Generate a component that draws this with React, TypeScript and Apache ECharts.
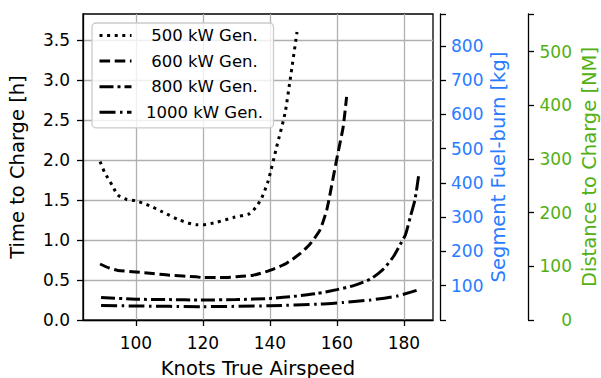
import React, { useEffect, useRef } from "react";
import * as echarts from "echarts";

// ---- data ----
const seriesNames = ["500 kW Gen.", "600 kW Gen.", "800 kW Gen.", "1000 kW Gen."];

const speed500 = [89.3, 90.6, 93.1, 94.6, 97.1, 100, 104, 108, 113, 118, 120, 124, 129, 134, 136, 137.5, 139.5, 142, 144.5, 146, 148.1];
const time500 = [1.98, 1.85, 1.67, 1.56, 1.51, 1.49, 1.43, 1.35, 1.25, 1.19, 1.19, 1.22, 1.28, 1.33, 1.42, 1.52, 1.74, 2.16, 2.58, 2.99, 3.6];

const speed600 = [89.3, 92, 94.6, 100, 105, 110, 118, 120, 125, 130, 135, 140, 145, 149, 152, 155, 157, 158.4, 160, 161.9, 162.9];
const time600 = [0.7, 0.65, 0.62, 0.6, 0.58, 0.56, 0.54, 0.53, 0.53, 0.54, 0.56, 0.62, 0.71, 0.83, 0.95, 1.13, 1.38, 1.67, 2.02, 2.42, 2.79];

const speed800 = [89.6, 100, 110, 119, 130, 140, 148, 154, 160, 165, 170, 174, 177, 179, 180.5, 182, 183.3, 184.5];
const time800 = [0.28, 0.26, 0.255, 0.25, 0.255, 0.27, 0.3, 0.33, 0.38, 0.43, 0.51, 0.64, 0.8, 0.95, 1.07, 1.3, 1.5, 1.83];

const speed1000 = [89.6, 100, 120, 140, 155, 162, 170, 178, 183.8];
const time1000 = [0.18, 0.175, 0.167, 0.178, 0.2, 0.22, 0.25, 0.3, 0.37];

const xTicks = [100, 120, 140, 160, 180];
const yTicks = [0, 0.5, 1.0, 1.5, 2.0, 2.5, 3.0, 3.5];

const xRange = [84.2, 188.7];
const timeRange = [0, 3.825];
const fuelRange = [0, 893];
const distRange = [0, 570];

const FONT = "DejaVu Sans";
const BLUE = "#2a7cff";
const GREEN = "#52b012";

function pairs(xs: number[], ys: number[]) {
  return xs.map((x, i) => [x, ys[i]]);
}

export default function App() {
  const ref = useRef<HTMLDivElement>(null);

  useEffect(() => {
    if (!ref.current) return;
    const chart = echarts.init(ref.current, null, { renderer: "svg" });

    const dashes: number[][] = [
      [3, 4.6],
      [10.6, 4.6],
      [14, 4, 3, 4],
      [16, 4.5, 2.5, 4.5],
    ];
    const datasets = [
      pairs(speed500, time500),
      pairs(speed600, time600),
      pairs(speed800, time800),
      pairs(speed1000, time1000),
    ];

    const axisLine = { show: true, lineStyle: { color: "#000", width: 1.3 } };
    const axisTick = { show: true, length: 6, lineStyle: { color: "#000", width: 1.3 } };

    chart.setOption({
      animation: false,
      textStyle: { fontFamily: FONT },
      grid: {
        left: 83,
        top: 14,
        right: 168,
        bottom: 58,
        containLabel: false,
        outerBoundsMode: "none",
        show: true,
        borderColor: "#000",
        borderWidth: 1.3,
        backgroundColor: "transparent",
      },
      legend: {
        orient: "vertical",
        left: 92,
        top: 23,
        padding: [4, 1, 7, 6],
        itemWidth: 32,
        itemHeight: 18,
        itemGap: 8.6,
        backgroundColor: "rgba(255,255,255,0.8)",
        borderColor: "#cccccc",
        borderWidth: 1.3,
        borderRadius: 4,
        itemStyle: { opacity: 0 },
        lineStyle: { width: 3 },
        data: seriesNames,
        formatter: "{a|{name}}",
        textStyle: {
          fontFamily: FONT,
          fontSize: 16.5,
          color: "#000",
          rich: {
            a: { width: 136, align: "center", fontFamily: FONT, fontSize: 16.5, color: "#000", lineHeight: 18 },
          },
        },
      },
      xAxis: {
        type: "value",
        min: xRange[0],
        max: xRange[1],
        name: "Knots True Airspeed",
        nameLocation: "middle",
        nameGap: 38,
        nameMoveOverlap: false,
        nameTextStyle: { fontFamily: FONT, fontSize: 19.5, color: "#000" },
        axisLine,
        axisTick: { ...axisTick, customValues: xTicks },
        axisLabel: { customValues: xTicks, fontFamily: FONT, fontSize: 17, color: "#000", margin: 14 },
        splitLine: { show: true, lineStyle: { color: "#b0b0b0", width: 1.3 } },
      },
      yAxis: [
        {
          type: "value",
          min: timeRange[0],
          max: timeRange[1],
          position: "left",
          name: "Time to Charge [h]",
          nameLocation: "middle",
          nameGap: 56,
          nameMoveOverlap: false,
          nameTextStyle: { fontFamily: FONT, fontSize: 19.5, color: "#000" },
          axisLine,
          axisTick: { ...axisTick, customValues: yTicks },
          axisLabel: {
            customValues: yTicks,
            fontFamily: FONT,
            fontSize: 17,
            color: "#000",
            margin: 13,
            formatter: (v: number) => v.toFixed(1),
          },
          splitLine: { show: true, lineStyle: { color: "#b0b0b0", width: 1.3 } },
        },
        {
          type: "value",
          min: fuelRange[0],
          max: fuelRange[1],
          interval: 100,
          position: "right",
          offset: 7,
          name: "Segment Fuel-burn [kg]",
          nameLocation: "middle",
          nameGap: 48,
          nameMoveOverlap: false,
          nameTextStyle: { fontFamily: FONT, fontSize: 19.5, color: BLUE },
          axisLine,
          axisTick,
          axisLabel: {
            fontFamily: FONT,
            fontSize: 17,
            color: BLUE,
            margin: 11,
            formatter: (v: number) => (v > 0 && v % 100 === 0 ? String(v) : ""),
          },
          splitLine: { show: false },
        },
        {
          type: "value",
          min: distRange[0],
          max: distRange[1],
          interval: 100,
          position: "right",
          offset: 95,
          name: "Distance to Charge [NM]",
          nameLocation: "middle",
          nameGap: 51,
          nameMoveOverlap: false,
          nameTextStyle: { fontFamily: FONT, fontSize: 19.5, color: GREEN },
          axisLine,
          axisTick,
          axisLabel: {
            fontFamily: FONT,
            fontSize: 17,
            color: GREEN,
            margin: 44,
            align: "right",
            formatter: (v: number) => (v % 100 === 0 ? String(v) : ""),
          },
          splitLine: { show: false },
        },
      ],
      series: seriesNames.map((name, i) => ({
        name,
        type: "line",
        yAxisIndex: 0,
        data: datasets[i],
        symbol: "none",
        smooth: 0.2,
        lineStyle: { color: "#000", width: 3, type: dashes[i], cap: "butt" },
        itemStyle: { color: "#000" },
      })),
    });

    return () => chart.dispose();
  }, []);

  return (
    <div
      ref={ref}
      style={{ position: "fixed", left: 0, top: 0, width: 601, height: 378, background: "#fff" }}
    />
  );
}
